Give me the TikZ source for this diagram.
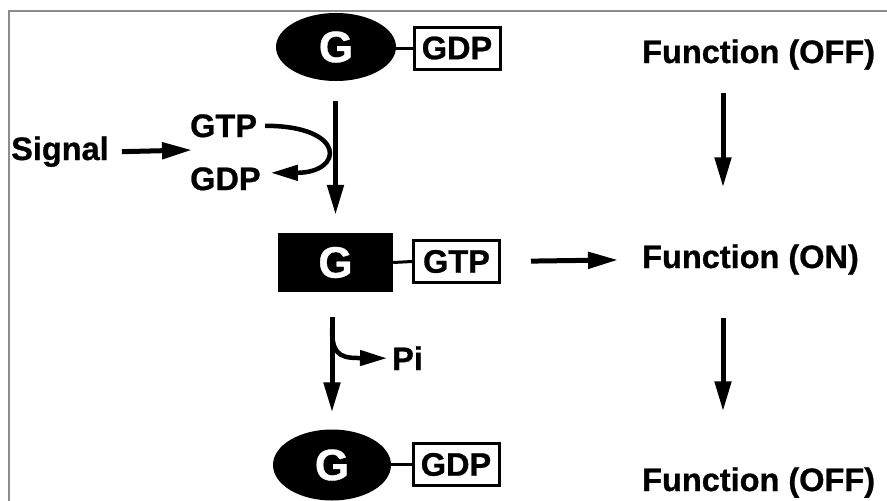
\documentclass[tikz,border=0pt]{standalone}
\usepackage{fontspec}
\setmainfont[BoldFeatures={FakeBold=0.8}]{Liberation Sans}
\usetikzlibrary{arrows.meta,shapes.geometric}
\begin{document}
\begin{tikzpicture}[x=1pt,y=-1pt,
  lbl/.style={font=\fontsize{32.5}{36}\selectfont\bfseries, inner sep=0pt, anchor=base west},
  gnode/.style={fill=black, text=white, font=\fontsize{44}{48}\selectfont\bfseries, inner sep=0pt},
  nuc/.style={draw, line width=3pt, inner sep=0pt, minimum width=86pt, minimum height=42pt, font=\fontsize{32.5}{36}\selectfont\bfseries},
  arr/.style={line width=5pt, -{Triangle[length=30pt,width=16pt]}},
  carr/.style={line width=4.5pt, -{Triangle[length=27pt,width=15pt]}},
  link/.style={line width=3pt}]
\useasboundingbox (0,0) rectangle (887,501);
\draw[black!45, line width=1.5pt] (9,501) -- (9,11) -- (887,11);

% G proteins
\node[gnode, ellipse, minimum width=120pt, minimum height=68pt] (g1) at (336,47) {G};
\node[nuc] (d1) at (457,48) {GDP};
\draw[link] (d1.west) -- (d1.west -| g1.east);

\node[gnode, rectangle, minimum width=115pt, minimum height=59pt] (g2) at (335.5,262.5) {G};
\node[nuc] (d2) at (456.5,261.5) {GTP};
\draw[link] (g2.east) -- (d2.west);

\node[gnode, ellipse, minimum width=118pt, minimum height=71pt] (g3) at (332,465) {G};
\node[nuc] (d3) at (456,464.5) {GDP};
\draw[link] (d3.west) -- (d3.west -| g3.east);

% labels
\node[lbl] (signal) at (11,160) {Signal};
\node[lbl] (gtp) at (190,137) {GTP};
\node[lbl] (gdpl) at (190,190) {GDP};
\node[lbl] (pi) at (392,370) {Pi};

\node[lbl] (fun1) at (642,63) {Function (OFF)};
\node[lbl] (fun2) at (642,268) {Function (ON)};
\node[lbl] (fun3) at (642,491) {Function (OFF)};

\coordinate (sg) at (192,150);
\coordinate (ax) at (723,0);
\coordinate (pb) at (332,328);

% left column arrows
\draw[arr, shorten <=20pt, shorten >=18pt] (g1.south -| g2.north) -- (g2.north);
\draw[arr] ([xshift=13pt]signal.east) -- (sg);
\draw[carr] ([xshift=8pt]gtp.east) .. controls +(82,0) and +(73,0) .. ([xshift=10pt,yshift=6pt]gdpl.east);

\draw[arr, shorten <=25pt, shorten >=17pt] (g2.south -| g3.north) -- (g3.north);
\draw[carr] (pb) .. controls (332,352) and (338,358) .. (358,358) -- ([xshift=-5pt]pi.west);

% right column arrows
\draw[arr, shorten <=30pt, shorten >=24pt] (d2.east) -- (fun2.west);
\draw[arr, shorten <=23pt, shorten >=57pt] (fun1.south -| ax) -- (fun2.north -| ax);
\draw[arr, shorten <=43pt, shorten >=56pt] (fun2.south -| ax) -- (fun3.north -| ax);
\end{tikzpicture}
\end{document}
